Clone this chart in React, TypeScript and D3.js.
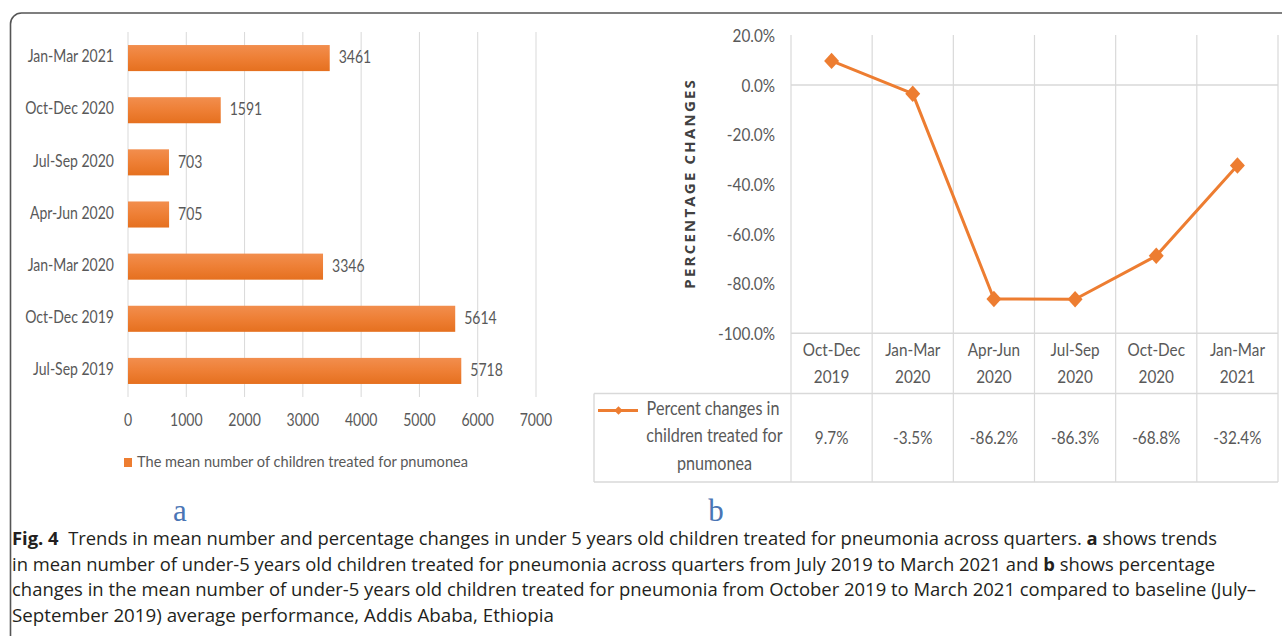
import React from 'react';
import * as d3 from 'd3';

// Panel a: mean number of under-5 children treated for pneumonia per quarter
const quarters = ['Jul-Sep 2019', 'Oct-Dec 2019', 'Jan-Mar 2020', 'Apr-Jun 2020', 'Jul-Sep 2020', 'Oct-Dec 2020', 'Jan-Mar 2021'];
const meanTreated = [5718, 5614, 3346, 705, 703, 1591, 3461];
const countTicks = [0, 1000, 2000, 3000, 4000, 5000, 6000, 7000];
const barLegend = 'The mean number of children treated for pnumonea';

// Panel b: percentage change compared to baseline (Jul-Sep 2019)
const changeQuarters = ['Oct-Dec 2019', 'Jan-Mar 2020', 'Apr-Jun 2020', 'Jul-Sep 2020', 'Oct-Dec 2020', 'Jan-Mar 2021'];
const percentChange = [9.7, -3.5, -86.2, -86.3, -68.8, -32.4];
const percentTicks = [20, 0, -20, -40, -60, -80, -100];
const lineLegend = ['Percent changes in', 'children treated for', 'pnumonea'];

const captionLines = [
  [{ t: 'Fig. 4', b: true }, { t: '  Trends in mean number and percentage changes in under 5 years old children treated for pneumonia across quarters. ' }, { t: 'a', b: true }, { t: ' shows trends' }],
  [{ t: 'in mean number of under-5 years old children treated for pneumonia across quarters from July 2019 to March 2021 and ' }, { t: 'b', b: true }, { t: ' shows percentage' }],
  [{ t: 'changes in the mean number of under-5 years old children treated for pneumonia from October 2019 to March 2021 compared to baseline (July–' }],
  [{ t: 'September 2019) average performance, Addis Ababa, Ethiopia' }],
];
const captionWidths = [1205, 1203, 1244, 542];

const W = 1282;
const H = 636;
const ORANGE = '#ED7D31';
const GRID = '#d9d9d9';
const LABEL = '#595959';
const FONT = 'Lato, "Open Sans", sans-serif';
const SQUEEZE = 0.85;

const pct = (v: number) => v.toFixed(1) + '%';

// Calibri-like label: a slightly condensed Lato
const T: React.FC<{ x: number; y: number; size: number; anchor?: string; fill?: string; children: React.ReactNode }> = ({ x, y, size, anchor = 'start', fill = LABEL, children }) => (
  <text
    transform={`translate(${x},${y}) scale(${SQUEEZE},1)`}
    textAnchor={anchor}
    dominantBaseline="middle"
    fontSize={size}
    fill={fill}
  >{children}</text>
);

const App: React.FC = () => {
  // --- panel a scales
  const x = d3.scaleLinear().domain([0, 7000]).range([128, 536]);
  const y = d3.scaleBand<string>()
    .domain([...quarters].reverse())
    .range([32, 397])
    .paddingInner(0.5)
    .paddingOuter(0.25);

  // --- panel b scales
  const xb = d3.scaleBand<string>().domain(changeQuarters).range([791, 1278]);
  const yb = d3.scaleLinear().domain([-100, 20]).range([333.3, 35.3]);
  const tableTop = yb(-100);
  const rowSplit = 393.5;
  const tableBottom = 482;

  const line = d3.line<number>()
    .x((_, i) => xb(changeQuarters[i])! + xb.bandwidth() / 2)
    .y(d => yb(d));

  const diamond = d3.symbol(d3.symbolSquare, 112)();
  const smallDiamond = d3.symbol(d3.symbolSquare, 36)();

  return (
    <svg width={W} height={H} style={{ position: 'absolute', left: 0, top: 0, background: '#fff' }}>
      <defs>
        <linearGradient id="barFill" x1="0" y1="0" x2="0" y2="1">
          <stop offset="0%" stopColor="#F28E4E" />
          <stop offset="50%" stopColor="#EE7F35" />
          <stop offset="100%" stopColor="#E5701F" />
        </linearGradient>
      </defs>

      <rect x={10.5} y={13} width={1300} height={700} rx={11} fill="none" stroke="#555" strokeWidth={1.6} />

      {/* Panel a */}
      <g fontFamily={FONT}>
        {countTicks.map(t => (
          <g key={t}>
            <line x1={x(t)} x2={x(t)} y1={32} y2={397} stroke={GRID} strokeWidth={1} />
            <T x={x(t)} y={422} size={16.5} anchor="middle">{t}</T>
          </g>
        ))}
        {quarters.map((q, i) => {
          const yy = y(q)!;
          const h = y.bandwidth();
          return (
            <g key={q}>
              <rect x={x(0)} y={yy} width={x(meanTreated[i]) - x(0)} height={h} fill="url(#barFill)" />
              <T x={114} y={yy + h / 2} size={16.5} anchor="end">{q}</T>
              <T x={x(meanTreated[i]) + 9} y={yy + h / 2 + 1} size={16.5}>{meanTreated[i]}</T>
            </g>
          );
        })}
        <rect x={124} y={458} width={8} height={9} fill={ORANGE} />
        <text x={137} y={463} dominantBaseline="middle" fontSize={14.5} fill={LABEL} textLength={331} lengthAdjust="spacingAndGlyphs">{barLegend}</text>
      </g>

      {/* Panel b */}
      <g fontFamily={FONT}>
        {xb.domain().map(c => (
          <line key={c} x1={xb(c)} x2={xb(c)} y1={35} y2={tableBottom} stroke={GRID} strokeWidth={1.2} />
        ))}
        <line x1={1278} x2={1278} y1={35} y2={tableBottom} stroke={GRID} strokeWidth={1.2} />
        <line x1={791} x2={1278} y1={yb(0)} y2={yb(0)} stroke={GRID} strokeWidth={1.4} />
        <line x1={791} x2={1278} y1={tableTop} y2={tableTop} stroke={GRID} strokeWidth={1.4} />
        <line x1={594} x2={1278} y1={rowSplit} y2={rowSplit} stroke={GRID} strokeWidth={1.4} />
        <line x1={594} x2={1278} y1={tableBottom} y2={tableBottom} stroke={GRID} strokeWidth={1.4} />
        <line x1={594} x2={594} y1={rowSplit} y2={tableBottom} stroke={GRID} strokeWidth={1.4} />

        {percentTicks.map(t => (
          <T key={t} x={775} y={yb(t) + 2} size={18} anchor="end">{pct(t)}</T>
        ))}
        <text
          transform={`translate(691, ${yb(-40) - 1}) rotate(-90)`}
          textAnchor="middle"
          dominantBaseline="middle"
          fontSize={15}
          fontWeight={700}
          letterSpacing={2.2}
          fill="#404040"
          fontFamily='"Open Sans", sans-serif'
        >PERCENTAGE CHANGES</text>

        <path d={line(percentChange)!} fill="none" stroke={ORANGE} strokeWidth={3} strokeLinejoin="round" />
        {percentChange.map((v, i) => (
          <path
            key={i}
            d={diamond}
            transform={`translate(${xb(changeQuarters[i])! + xb.bandwidth() / 2}, ${yb(v)}) scale(1, 1.1) rotate(45)`}
            fill={ORANGE}
          />
        ))}

        {changeQuarters.map((c, i) => {
          const cx = xb(c)! + xb.bandwidth() / 2;
          const [m, yr] = c.split(' ');
          return (
            <g key={c}>
              <T x={cx} y={351} size={18} anchor="middle">{m}</T>
              <T x={cx} y={378} size={18} anchor="middle">{yr}</T>
              <T x={cx} y={439} size={18} anchor="middle">{pct(percentChange[i])}</T>
            </g>
          );
        })}

        <line x1={598} x2={638} y1={410.5} y2={410.5} stroke={ORANGE} strokeWidth={3} />
        <path d={smallDiamond} transform="translate(618.5, 410.5) rotate(45)" fill={ORANGE} />
        {lineLegend.map((l, i) => (
          <T key={l} x={i === 0 ? 713 : 714.5} y={410 + i * 27.5} size={19} anchor="middle">{l}</T>
        ))}
      </g>

      {/* panel letters */}
      <text x={180} y={521} textAnchor="middle" fontSize={31} fill="#4a75b5" fontFamily='"Liberation Serif", "DejaVu Serif", serif'>a</text>
      <text x={716} y={521} textAnchor="middle" fontSize={31} fill="#4a75b5" fontFamily='"Liberation Serif", "DejaVu Serif", serif'>b</text>

      {/* caption */}
      <g fontFamily='"Open Sans", "Noto Sans", sans-serif' fontSize={17.5} fill="#231f20">
        {captionLines.map((segs, i) => (
          <text key={i} x={12} y={545 + i * 25.6} textLength={captionWidths[i]} lengthAdjust="spacingAndGlyphs" xmlSpace="preserve" style={{ whiteSpace: 'pre' }}>
            {segs.map((s, j) => (
              <tspan key={j} fontWeight={s.b ? 700 : 400}>{s.t}</tspan>
            ))}
          </text>
        ))}
      </g>
    </svg>
  );
};

export default App;
